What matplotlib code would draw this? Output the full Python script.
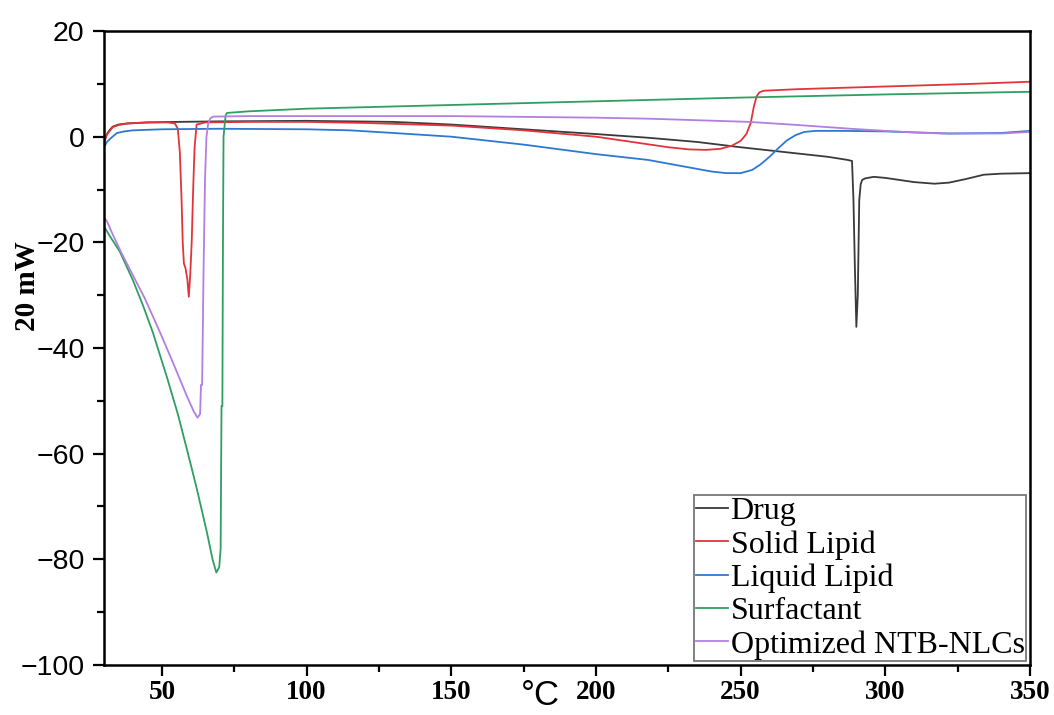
import matplotlib
matplotlib.use("Agg")
import matplotlib.pyplot as plt
from matplotlib.ticker import MultipleLocator

# ---------------- data ----------------
drug_x = [30, 31, 32, 33, 35, 38, 45, 55, 70, 100, 130, 150, 175, 200, 218, 235, 250, 265, 280, 287,
          288.5, 289, 289.5, 290, 290.5, 291, 291.5, 292, 293, 296, 300, 305, 310, 317, 322, 328, 334, 340, 350]
drug_y = [-1.0, 0.5, 1.3, 1.9, 2.3, 2.5, 2.7, 2.8, 2.9, 3.0, 2.8, 2.3, 1.4, 0.5, -0.2, -1.0, -2.0, -2.9, -3.8, -4.4,
          -4.6, -12, -25, -36, -30, -12, -9.0, -8.2, -7.9, -7.6, -7.8, -8.2, -8.6, -8.9, -8.7, -8.0, -7.2, -7.0, -6.9]

solid_x = [30, 31, 33, 35, 38, 45, 52, 54.5, 55.5, 56.2, 56.8, 57.2, 57.6, 58.2, 58.8, 59.3, 59.8, 60.3, 60.8,
           61.3, 62, 65, 80, 100, 120, 150, 175, 200, 215, 225, 232, 238, 243, 247, 250, 252, 253.5, 254.5,
           255.5, 256.5, 258, 270, 300, 330, 350]
solid_y = [-1.2, 0.4, 1.8, 2.2, 2.5, 2.7, 2.7, 2.5, 1.5, -3, -12, -20, -24, -25, -27, -30.3, -26, -20, -10,
           -2, 2.3, 2.7, 2.8, 2.8, 2.6, 2.1, 1.2, 0.0, -1.2, -2.0, -2.4, -2.5, -2.3, -1.7, -0.8, 0.5, 2.6, 5.5,
           7.6, 8.4, 8.7, 9.0, 9.5, 10.0, 10.4]

liquid_x = [30, 31, 32.5, 34.5, 37, 40, 50, 70, 100, 115, 130, 150, 175, 200, 218, 232, 240, 245, 250, 254,
            257, 260, 263, 266, 269, 272, 276, 285, 300, 322, 340, 350]
liquid_y = [-2.0, -1.0, -0.2, 0.7, 1.0, 1.2, 1.4, 1.5, 1.4, 1.2, 0.7, 0.0, -1.5, -3.3, -4.4, -5.8, -6.6, -6.9,
            -6.9, -6.3, -5.2, -3.8, -2.2, -0.7, 0.3, 0.9, 1.1, 1.1, 1.0, 0.6, 0.7, 1.1]

surf_x = [30, 32, 35.5, 40, 43.5, 46.9, 52, 55.5, 58.7, 62, 65.6, 67.5, 68.8, 69.8, 70.3, 70.6, 70.9, 71.1, 71.3,
          72.0, 72.5, 80, 100, 150, 200, 250, 300, 350]
surf_y = [-17, -18.8, -21.8, -27.2, -32, -37.1, -46, -52.5, -59.3, -66.5, -75, -80, -82.5, -81.5, -78, -51, -51,
          -20, 0, 4.0, 4.5, 4.8, 5.3, 6.0, 6.7, 7.4, 8.0, 8.5]

opt_x = [30, 31, 33, 36, 39, 44, 49.4, 54, 58.7, 61, 62.3, 63.2, 63.5, 63.9, 64.4, 64.9, 65.4, 66, 66.8, 67.7,
         80, 100, 150, 200, 218.7, 253, 270, 288, 300, 310, 320, 328, 340, 350]
opt_y = [-15.3, -16, -18.5, -22, -25.2, -30.5, -37.1, -43, -49.2, -52, -53.2, -52.5, -47, -47, -25, -8, 0, 2.5,
         3.5, 3.8, 3.9, 3.9, 3.9, 3.6, 3.4, 2.8, 2.2, 1.5, 1.1, 0.8, 0.6, 0.6, 0.6, 0.9]

labels = ["Drug", "Solid Lipid", "Liquid Lipid", "Surfactant", "Optimized NTB-NLCs"]
colors = ["#3a3a3a", "#e2343a", "#2c78d4", "#2f9e62", "#b27fe0"]

x_ticks = [50, 100, 150, 200, 250, 300, 350]
y_ticks = [-100, -80, -60, -40, -20, 0, 20]

# ---------------- figure ----------------
fig = plt.figure(figsize=(10.54, 7.15), dpi=100)
ax = fig.add_axes([0.0987, 0.070, 0.8785, 0.8866])

series = [(drug_x, drug_y), (solid_x, solid_y), (liquid_x, liquid_y), (surf_x, surf_y), (opt_x, opt_y)]
for (xs, ys), lab, c in zip(series, labels, colors):
    ax.plot(xs, ys, color=c, lw=1.3, label=lab)

ax.set_xlim(30, 350)
ax.set_ylim(-100, 20)
ax.set_xticks(x_ticks)
ax.set_yticks(y_ticks)
ax.xaxis.set_minor_locator(MultipleLocator(25))
ax.yaxis.set_minor_locator(MultipleLocator(10))

for s in ax.spines.values():
    s.set_linewidth(1.8)
    s.set_color("black")

ax.tick_params(axis="both", which="major", direction="out", length=8, width=1.6, color="black")
ax.tick_params(axis="both", which="minor", direction="out", length=5, width=1.6, color="black")
ax.tick_params(axis="x", pad=3)
ax.tick_params(axis="y", pad=6)

ax.set_yticklabels([f"\u2212{abs(v)}" if v < 0 else str(v) for v in y_ticks],
                   fontfamily="Liberation Sans", fontsize=20.5)
ax.set_xticklabels([str(v) for v in x_ticks], fontfamily="Liberation Serif",
                   fontweight="bold", fontsize=19.5)

fig.text(0.026, 0.60, "20 mW", rotation=90, ha="center", va="center",
         fontfamily="Liberation Serif", fontweight="bold", fontsize=21)
fig.text(0.513, 0.004, "\u00b0C", ha="center", va="bottom",
         fontfamily="Liberation Sans", fontsize=25)

leg = ax.legend(loc="lower right", prop={"family": "Liberation Serif", "size": 23},
                frameon=True, fancybox=False, borderpad=0.05, labelspacing=0.12,
                handlelength=1.0, handletextpad=0.08, borderaxespad=0.12)
leg.get_frame().set_edgecolor("#555555")
leg.get_frame().set_linewidth(1.3)

fig.savefig("out.png", dpi=100)
